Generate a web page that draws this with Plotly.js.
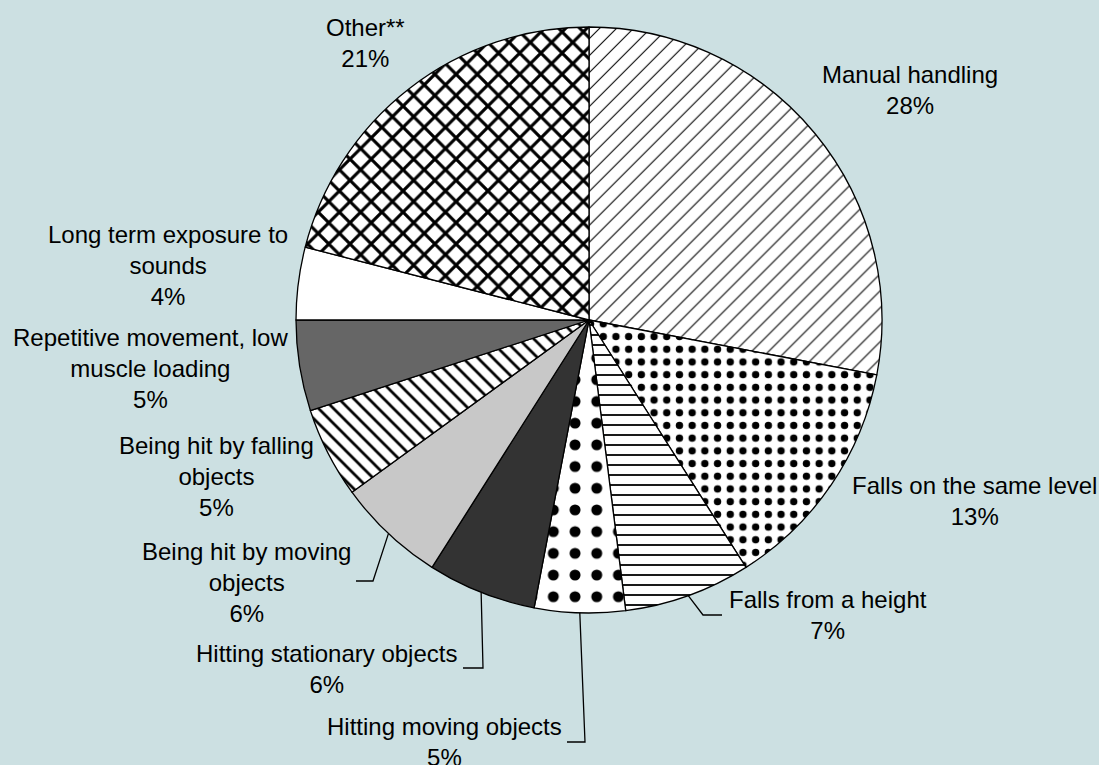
<!DOCTYPE html>
<html><head><meta charset="utf-8">
<script src="https://cdn.plot.ly/plotly-3.0.1.min.js"></script>
<style>html,body{margin:0;padding:0;background:#CCE0E2;} #chart{width:1099px;height:765px;}</style>
</head><body><div id="chart"></div>
<script>
// ---- data ----
const categories = ["Manual handling", "Falls on the same level", "Falls from a height", "Hitting moving objects", "Hitting stationary objects", "Being hit by moving objects", "Being hit by falling objects", "Repetitive movement, low muscle loading", "Long term exposure to sounds", "Other**"];
const values = [28, 13, 7, 5, 6, 6, 5, 5, 4, 21];
const labelLines = ["Manual handling", "Falls on the same level", "Falls from a height", "Hitting moving objects", "Hitting stationary objects", "Being hit by moving<br>objects", "Being hit by falling<br>objects", "Repetitive movement, low<br>muscle loading", "Long term exposure to<br>sounds", "Other**"];

// ---- styles ----
const sliceColors = ["#FFFFFF","#FFFFFF","#FFFFFF","#FFFFFF","#333333","#C8C8C8","#FFFFFF","#666666","#FFFFFF","#FFFFFF"];
const patternShapes = ["/", ".", "-", ".", "", "", "\\", "", "", "x"];
const patternSizes = [12, 12.7, 10, 21.7, 8, 8, 10.6, 8, 8, 15];
const patternSolidity = [0.09, 0.26, 0.18, 0.2, 0.3, 0.3, 0.26, 0.3, 0.3, 0.38];

const W = 1099, H = 765, CX = 589, CY = 320, R = 293;
// label block centres (pixels)
const labelPos = [[910,90],[974,501],[828,615],[444,742],[327,669],[246,582],[216,476],[150,368],[168,265],[365,43]];
// leader lines: elbow and end points (pixels), null = no leader
const leaders = [null, null, [[703,615],[722,615]], [[585,742],[567,742]], [[483,668],[463,668]], [[373,581],[356,581]], null, null, null, null];

const total = values.reduce((a,b)=>a+b,0);
const fx = p => p / W, fy = p => 1 - p / H;

const annotations = categories.map((c,i) => ({
  text: labelLines[i] + '<br>' + Math.round(values[i]/total*100) + '%',
  x: fx(labelPos[i][0]), y: fy(labelPos[i][1]), xref: 'paper', yref: 'paper',
  xanchor: 'center', yanchor: 'middle', align: 'center', showarrow: false,
  font: {family: 'Liberation Sans, Arial, sans-serif', size: 24, color: '#000000'}
}));

const shapes = [];
let cum = 0;
values.forEach((v,i) => {
  const mid = (cum + v/2) / total * 2 * Math.PI;
  cum += v;
  if (!leaders[i]) return;
  const sx = CX + R * Math.sin(mid), sy = CY - R * Math.cos(mid);
  const pts = [[sx,sy]].concat(leaders[i]);
  const path = pts.map((p,k) => (k ? 'L' : 'M') + fx(p[0]) + ',' + fy(p[1])).join(' ');
  shapes.push({type:'path', xref:'paper', yref:'paper', path: path, line:{color:'#000000', width:1.3}});
});

const trace = {
  type: 'pie', labels: categories, values: values, sort: false, direction: 'clockwise', rotation: 0,
  textinfo: 'none', hoverinfo: 'label+percent', showlegend: false,
  domain: {x: [fx(CX - R), fx(CX + R)], y: [fy(CY + R), fy(CY - R)]},
  marker: {
    colors: sliceColors,
    line: {color: '#000000', width: 1.3},
    pattern: {shape: patternShapes, size: patternSizes, solidity: patternSolidity, fgcolor: '#000000', fgopacity: 1, bgcolor: sliceColors, fillmode: 'overlay'}
  }
};

const layout = {
  width: W, height: H, margin: {l:0, r:0, t:0, b:0},
  paper_bgcolor: '#CCE0E2', plot_bgcolor: '#CCE0E2',
  annotations: annotations, shapes: shapes,
  font: {family: 'Liberation Sans, Arial, sans-serif'}
};

Plotly.newPlot('chart', [trace], layout, {displayModeBar: false, staticPlot: true});
</script></body></html>
